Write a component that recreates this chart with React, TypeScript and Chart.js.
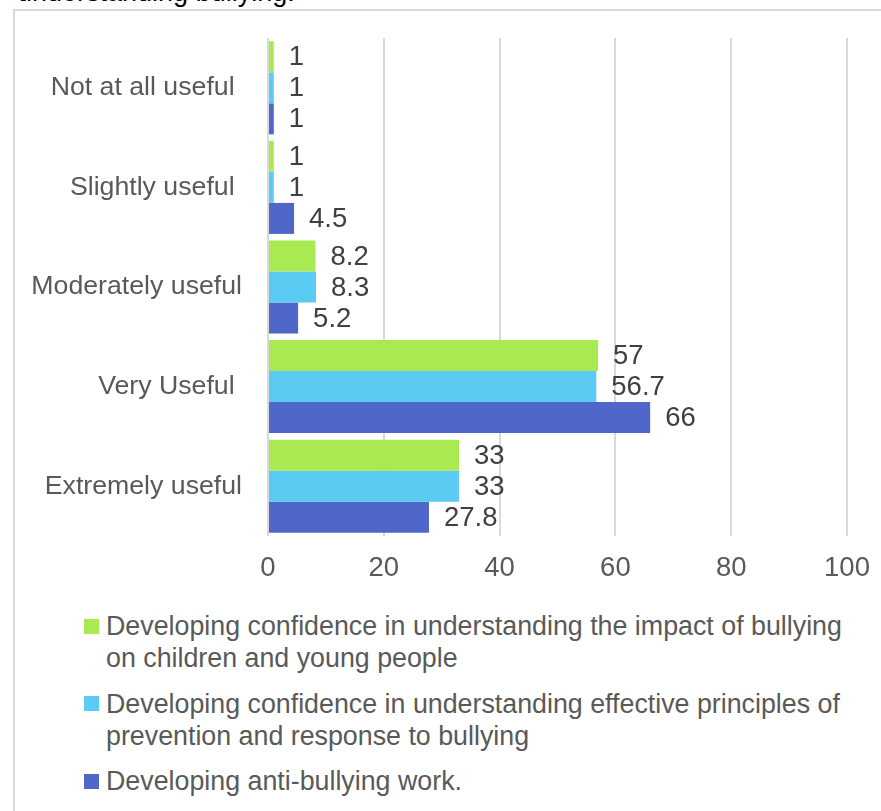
import React, { useEffect, useRef } from "react";
import { Chart, registerables } from "chart.js";

Chart.register(...registerables);

const categories = ["Not at all useful ", "Slightly useful ", "Moderately useful", "Very Useful ", "Extremely useful"];
const impactValues = [1, 1, 8.2, 57, 33];
const principlesValues = [1, 1, 8.3, 56.7, 33];
const antiBullyingValues = [1, 4.5, 5.2, 66, 27.8];
const seriesLabels = [
  ["Developing confidence in understanding the impact of bullying", "on children and young people"],
  ["Developing confidence in understanding effective principles of", "prevention and response to bullying"],
  ["Developing anti-bullying work."],
];
const seriesColors = ["#A9EA53", "#5BCBF3", "#4E67C8"];
const xMin = 0;
const xMax = 100;
const xStep = 20;

const FONT = "'Liberation Sans', Arial, sans-serif";

const valueLabels = {
  id: "valueLabels",
  afterDatasetsDraw(chart: any) {
    const ctx = chart.ctx;
    ctx.save();
    ctx.font = `27.5px ${FONT}`;
    ctx.fillStyle = "#404040";
    ctx.textAlign = "left";
    ctx.textBaseline = "middle";
    chart.data.datasets.forEach((ds: any, di: number) => {
      const meta = chart.getDatasetMeta(di);
      meta.data.forEach((bar: any, i: number) => {
        ctx.fillText(String(ds.data[i]), bar.x + 15, bar.y + 1);
      });
    });
    ctx.restore();
  },
};

export default function App() {
  const canvasRef = useRef<HTMLCanvasElement | null>(null);

  useEffect(() => {
    if (!canvasRef.current) return;
    const seriesValues = [impactValues, principlesValues, antiBullyingValues];
    const chart = new Chart(canvasRef.current, {
      type: "bar",
      data: {
        labels: categories,
        datasets: seriesValues.map((vals, i) => ({
          label: seriesLabels[i].join(" "),
          data: vals,
          backgroundColor: seriesColors[i],
          borderWidth: 0,
          categoryPercentage: 0.934,
          barPercentage: 1,
        })),
      },
      options: {
        indexAxis: "y",
        responsive: false,
        animation: false,
        layout: { padding: { top: 38, right: 34, left: 0, bottom: 0 } },
        plugins: { legend: { display: false }, tooltip: { enabled: false } },
        scales: {
          x: {
            min: xMin,
            max: xMax,
            ticks: { stepSize: xStep, color: "#595959", font: { family: FONT, size: 27.5 }, padding: 16 },
            grid: { color: "#d9d9d9", lineWidth: 2, drawTicks: false },
            border: { display: false },
            afterFit: (s: any) => {
              s.height = 64;
              s.paddingLeft = 0;
              s.paddingRight = 0;
            },
          },
          y: {
            ticks: { color: "#595959", font: { family: FONT, size: 26.7 }, padding: 26 },
            grid: { display: false, drawTicks: false },
            border: { display: false },
            afterFit: (s: any) => {
              s.width = 268;
              s.paddingTop = 0;
              s.paddingBottom = 0;
            },
          },
        },
      } as any,
      plugins: [valueLabels],
    });
    return () => chart.destroy();
  }, []);

  return (
    <div style={{ position: "absolute", left: 0, top: 0, width: 881, height: 811, overflow: "hidden", background: "#fff" }}>
      <div
        style={{
          position: "absolute",
          left: 17,
          top: -21,
          fontFamily: FONT,
          fontSize: 27,
          lineHeight: "27px",
          color: "#000",
          whiteSpace: "nowrap",
        }}
      >
        understanding bullying.
      </div>
      <div
        style={{
          position: "absolute",
          left: 13,
          top: 9,
          width: 1000,
          height: 1000,
          border: "2px solid #d9d9d9",
          boxSizing: "border-box",
        }}
      />
      <canvas
        ref={canvasRef}
        width={881}
        height={600}
        style={{ position: "absolute", left: 0, top: 0, width: 881, height: 600 }}
      />
      <div style={{ position: "absolute", left: 84, top: 610, fontFamily: FONT, fontSize: 26.8, color: "#595959" }}>
        {seriesLabels.map((lines, i) => (
          <div key={i} style={{ display: "flex", alignItems: "flex-start", marginBottom: 13.5 }}>
            <div
              style={{
                width: 15,
                height: 15,
                background: seriesColors[i],
                marginTop: 8.5,
                flex: "0 0 auto",
              }}
            />
            <div style={{ marginLeft: 7, lineHeight: "32px", whiteSpace: "nowrap" }}>
              {lines.map((l, j) => (
                <div key={j}>{l}</div>
              ))}
            </div>
          </div>
        ))}
      </div>
    </div>
  );
}
